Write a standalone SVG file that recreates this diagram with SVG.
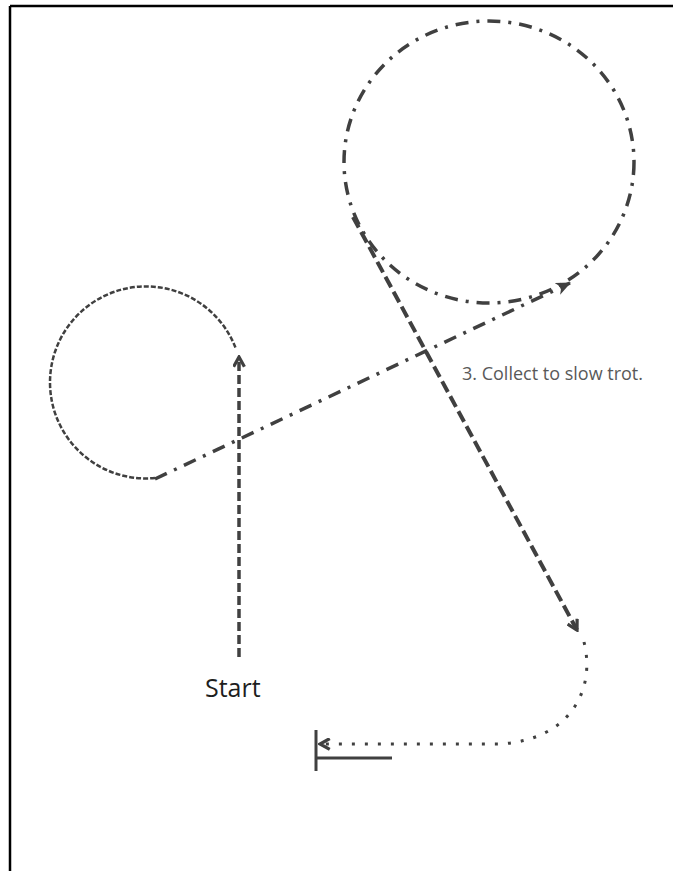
<svg xmlns="http://www.w3.org/2000/svg" width="673" height="871" viewBox="0 0 673 871">
  <style>
    .ln { fill: none; stroke: #404040; }
    .frame { stroke: #000; stroke-width: 2.5; }
    .dashdot { stroke-width: 3.5; stroke-dasharray: 13 8 3 8; }
    .dash-s { stroke-width: 2.5; stroke-dasharray: 5 2; }
    .dash-v { stroke-width: 3.5; stroke-dasharray: 9 4; }
    .dash-d { stroke-width: 4; stroke-dasharray: 12 5; }
    .dot { stroke-width: 3; stroke-dasharray: 3 10; }
    .solid { stroke-width: 3; }
    .lbl { font-family: "Open Sans", "Liberation Sans", sans-serif; }
  </style>
  <defs>
    <marker id="chev" viewBox="0 0 12 12" refX="10" refY="6" markerWidth="13" markerHeight="13" markerUnits="userSpaceOnUse" orient="auto">
      <path d="M1,1 L10,6 L1,11" fill="none" stroke="#404040" stroke-width="3"/>
    </marker>
    <marker id="solidhead" viewBox="0 0 14 12" refX="13" refY="6" markerWidth="15" markerHeight="13" markerUnits="userSpaceOnUse" orient="auto">
      <path d="M0,0 L14,6 L0,12 L4,6 z" fill="#404040"/>
    </marker>
  </defs>

  <g id="frame">
    <line class="frame" x1="10" y1="6" x2="673" y2="6"/>
    <line class="frame" x1="10" y1="6" x2="10" y2="871"/>
  </g>

  <g id="small-circle">
    <path class="ln dash-s" d="M155,478 A96,96 0 1,1 236,349"/>
  </g>

  <g id="large-circle">
    <ellipse class="ln dashdot" cx="489" cy="162" rx="145" ry="141"/>
  </g>

  <g id="finish">
    <line class="ln solid" x1="316" y1="730" x2="316" y2="771"/>
    <line class="ln solid" x1="316" y1="758" x2="392" y2="758"/>
  </g>

  <g id="connectors">
    <path class="ln dash-v" d="M239,657 L239,357" marker-end="url(#chev)"/>
    <path class="ln dashdot" d="M155,479 L570,283" marker-end="url(#solidhead)"/>
    <path class="ln dash-d" d="M353,217 L577,630" marker-end="url(#chev)"/>
    <path class="ln dot" d="M584,642 C596,690 570,740 500,744 L320,744" marker-end="url(#chev)"/>
  </g>

  <g id="labels">
    <text class="lbl" x="205" y="697" font-size="25" fill="#1e1e1e">Start</text>
    <text class="lbl" x="462" y="380" font-size="18" fill="#595959">3. Collect to slow trot.</text>
  </g>
</svg>
